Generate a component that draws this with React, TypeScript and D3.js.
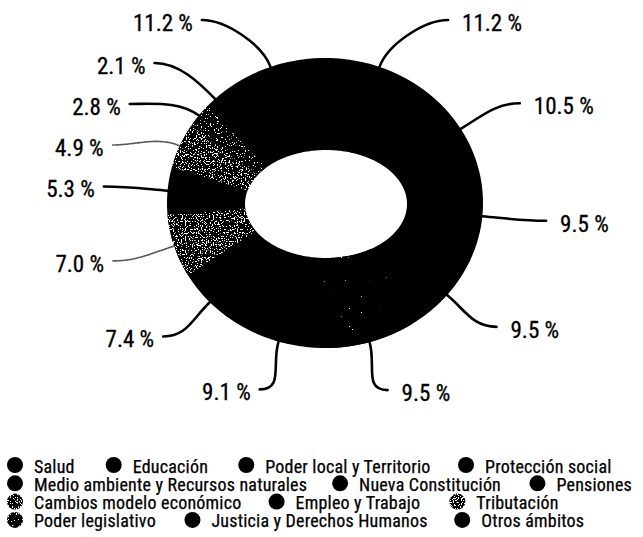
import React from "react";
import * as d3 from "d3";

// ---------- data ----------
const categories = [
  "Salud",
  "Educación",
  "Poder local y Territorio",
  "Protección social",
  "Medio ambiente y Recursos naturales",
  "Nueva Constitución",
  "Pensiones",
  "Cambios modelo económico",
  "Empleo y Trabajo",
  "Tributación",
  "Poder legislativo",
  "Justicia y Derechos Humanos",
  "Otros ámbitos",
];
const values = [11.2, 10.5, 9.5, 9.5, 9.5, 9.1, 7.4, 7.0, 5.3, 4.9, 2.8, 2.1, 11.2];

const legendRows = [
  ["Salud", "Educación", "Poder local y Territorio", "Protección social"],
  ["Medio ambiente y Recursos naturales", "Nueva Constitución", "Pensiones"],
  ["Cambios modelo económico", "Empleo y Trabajo", "Tributación"],
  ["Poder legislativo", "Justicia y Derechos Humanos", "Otros ámbitos"],
];

// ---------- styles ----------
const W = 643;
const H = 537;
const FONT =
  "'Roboto Condensed','Liberation Sans Narrow','Arial Narrow','DejaVu Sans Condensed',Roboto,sans-serif";
const fillByCategory: Record<string, string> = {
  "Medio ambiente y Recursos naturales": "url(#tex-sparse)",
  "Cambios modelo económico": "url(#tex-light)",
  "Tributación": "url(#tex-light)",
  "Poder legislativo": "url(#tex-dense)",
};
const faintLeader = new Set(["Cambios modelo económico", "Tributación"]);

// geometry
const CX = 325;
const CY = 203;
const OUT = { rx: 158, ry: 145, cx: 325, cy: 203 };
const INN = { rx: 81, ry: 54, cx: 326, cy: 204 };
const LAB = { rx: 222, ry: 195 };
const LABEL_GAP = 41;

function ept(e: { rx: number; ry: number; cx: number; cy: number }, a: number): [number, number] {
  return [e.cx + e.rx * Math.sin(a), e.cy - e.ry * Math.cos(a)];
}

let _ctx: CanvasRenderingContext2D | null = null;
function textW(s: string, size: number) {
  if (!_ctx) _ctx = document.createElement("canvas").getContext("2d");
  if (!_ctx) return s.length * size * 0.45;
  _ctx.font = `${size}px ${FONT}`;
  return _ctx.measureText(s).width;
}

export default function App() {
  const pie = d3
    .pie<number>()
    .sort(null)
    .value((d) => d)
    .startAngle(0)
    .endAngle(2 * Math.PI);
  const arcs = pie(values);
  const line = d3.line();

  const ringPts = (a0: number, a1: number) => {
    const n = Math.max(6, Math.ceil((a1 - a0) / 0.02));
    const angs = d3.range(n + 1).map((k) => a0 + ((a1 - a0) * k) / n);
    const pts = angs.map((t) => ept(OUT, t)).concat(angs.slice().reverse().map((t) => ept(INN, t)));
    return line(pts) + "Z";
  };
  const slices = arcs.map((a, i) => ({ d: ringPts(a.startAngle, a.endAngle), cat: categories[i] }));
  const ringD = (() => {
    const n = 360;
    const angs = d3.range(n + 1).map((k) => (2 * Math.PI * k) / n);
    return (
      line(angs.map((t) => ept(OUT, t))) + "Z" + line(angs.slice().reverse().map((t) => ept(INN, t))) + "Z"
    );
  })();

  // label layout
  type L = { i: number; mid: number; side: number; y: number; x: number; o: [number, number] };
  const labels: L[] = arcs.map((a, i) => {
    const mid = (a.startAngle + a.endAngle) / 2;
    const side = Math.sin(mid) >= 0 ? 1 : -1;
    return { i, mid, side, y: CY - LAB.ry * Math.cos(mid), x: 0, o: ept(OUT, mid) };
  });
  [1, -1].forEach((s) => {
    const grp = labels.filter((l) => l.side === s).sort((p, q) => p.y - q.y);
    for (let k = 1; k < grp.length; k++) {
      if (grp[k].y - grp[k - 1].y < LABEL_GAP) grp[k].y = grp[k - 1].y + LABEL_GAP;
    }
  });
  labels.forEach((l) => {
    const t = Math.min(1, Math.abs((l.y - CY) / LAB.ry));
    const xe = LAB.rx * Math.sqrt(Math.max(0, 1 - t * t));
    const up = Math.max(0, -(l.y - CY) / LAB.ry);
    const leg = 60 * Math.pow(up, 4);
    l.x = CX + l.side * (xe + leg);
  });

  const leaderPath = (l: L) => {
    const p = d3.path();
    const [ox, oy] = l.o;
    const dx = Math.sin(l.mid);
    const dy = -Math.cos(l.mid);
    const nrm = Math.hypot(dx, dy);
    p.moveTo(ox, oy);
    p.bezierCurveTo(ox + (dx / nrm) * 24, oy + (dy / nrm) * 24, l.x - l.side * 24, l.y, l.x, l.y);
    return p.toString();
  };

  // legend layout
  const LFS = 18;
  const rowY = d3.scaleLinear().domain([0, 1]).range([465, 483.3]);
  const legendItems: { cat: string; cx: number; cy: number }[] = [];
  legendRows.forEach((row, r) => {
    const widths = row.map((c) => textW(c, LFS));
    const content = 15 + (row.length - 1) * 19 + d3.sum(widths);
    const gap = Math.min(40, (638 - content) / Math.max(1, row.length - 1));
    let x = 15;
    row.forEach((c, k) => {
      legendItems.push({ cat: c, cx: x, cy: rowY(r) });
      x += 19 + widths[k] + gap;
    });
  });

  const fillOf = (c: string) => fillByCategory[c] || "#000";

  return (
    <div style={{ position: "absolute", left: 0, top: 0 }}>
      <svg width={W} height={H} viewBox={`0 0 ${W} ${H}`} style={{ display: "block", background: "#fff" }}>
        <defs>
          <filter id="nz-light" x="0" y="0" width="1" height="1" colorInterpolationFilters="sRGB">
            <feTurbulence type="fractalNoise" baseFrequency="0.75" numOctaves={2} seed={4} />
            <feColorMatrix type="matrix" values="0 0 0 0 0  0 0 0 0 0  0 0 0 0 0  -30 0 0 0 18.6" />
          </filter>
          <filter id="nz-dense" x="0" y="0" width="1" height="1" colorInterpolationFilters="sRGB">
            <feTurbulence type="fractalNoise" baseFrequency="0.75" numOctaves={2} seed={7} />
            <feColorMatrix type="matrix" values="0 0 0 0 0  0 0 0 0 0  0 0 0 0 0  -30 0 0 0 20.5" />
          </filter>
          <filter id="nz-sparse" x="0" y="0" width="1" height="1" colorInterpolationFilters="sRGB">
            <feTurbulence type="fractalNoise" baseFrequency="0.75" numOctaves={2} seed={9} />
            <feColorMatrix type="matrix" values="0 0 0 0 0  0 0 0 0 0  0 0 0 0 0  -30 0 0 0 25" />
          </filter>
          {["light", "dense", "sparse"].map((k) => (
            <pattern key={k} id={`tex-${k}`} patternUnits="userSpaceOnUse" x={0} y={0} width={W} height={H}>
              <rect width={W} height={H} fill="#fff" />
              <rect width={W} height={H} fill="#000" filter={`url(#nz-${k})`} />
            </pattern>
          ))}
        </defs>

        <path d={ringD} fill="#000" fillRule="evenodd" />
        {slices.map((s, i) =>
          fillByCategory[s.cat] ? <path key={i} d={s.d} fill={fillOf(s.cat)} stroke="none" /> : null
        )}

        {labels.map((l) => {
          const faint = faintLeader.has(categories[l.i]);
          return (
            <path
              key={`ld${l.i}`}
              d={leaderPath(l)}
              fill="none"
              stroke={faint ? "#555" : "#000"}
              strokeWidth={faint ? 1.6 : 2.6}
              strokeDasharray={faint ? "2.5 1.2" : undefined}
              strokeLinecap="round"
            />
          );
        })}

        {labels.map((l) => (
          <text
            key={`lt${l.i}`}
            x={l.x + (l.side > 0 ? 14 : -9)}
            y={l.y + 11}
            textAnchor={l.side > 0 ? "start" : "end"}
            fontFamily={FONT}
            fontSize={23}
            fill="#000"
            stroke="#000"
            strokeWidth={0.3}
          >
            {`${values[l.i].toFixed(1)} %`}
          </text>
        ))}

        {legendItems.map((it) => (
          <g key={it.cat}>
            <circle cx={it.cx} cy={it.cy} r={8} fill={fillOf(it.cat)} />
            <text
              x={it.cx + 19}
              y={it.cy + 7.5}
              fontFamily={FONT}
              fontSize={LFS}
              letterSpacing={0.2}
              fill="#000"
              stroke="#000"
              strokeWidth={0.25}
            >
              {it.cat}
            </text>
          </g>
        ))}
      </svg>
    </div>
  );
}
